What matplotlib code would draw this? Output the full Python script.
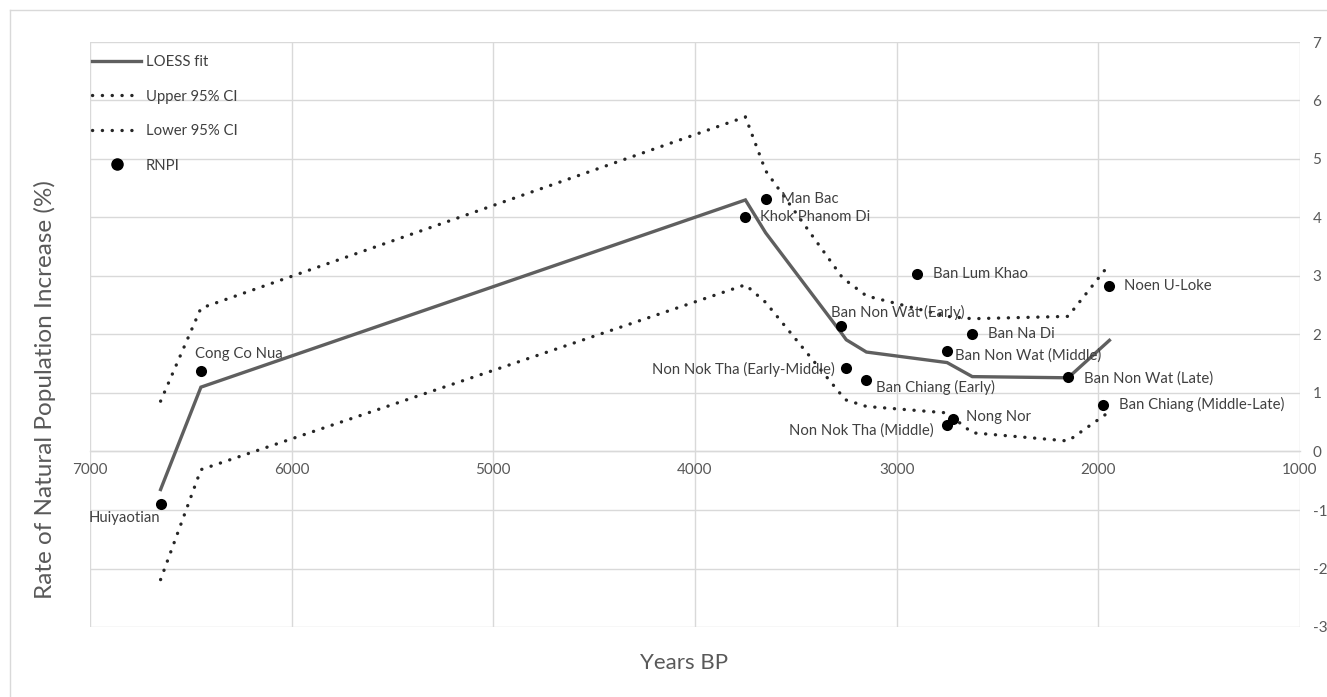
import matplotlib
matplotlib.use("Agg")
import matplotlib.pyplot as plt
from matplotlib.lines import Line2D

# ---------------- data ----------------
fit_years = [6650, 6450, 3750, 3650, 3275, 3250, 3150, 2750, 2625, 2150, 1945]
fit_loess = [-0.65, 1.10, 4.30, 3.74, 2.03, 1.91, 1.70, 1.52, 1.28, 1.26, 1.90]
fit_upper = [0.86, 2.45, 5.72, 4.80, 3.00, 2.92, 2.66, 2.31, 2.27, 2.31, 3.20]
fit_lower = [-2.19, -0.31, 2.85, 2.55, 0.97, 0.88, 0.77, 0.66, 0.32, 0.18, 0.68]

site_names = ["Huiyaotian", "Cong Co Nua", "Khok Phanom Di", "Man Bac",
              "Ban Non Wat (Early)", "Non Nok Tha (Early-Middle)", "Ban Chiang (Early)",
              "Ban Lum Khao", "Ban Non Wat (Middle)", "Non Nok Tha (Middle)", "Nong Nor",
              "Ban Na Di", "Ban Non Wat (Late)", "Ban Chiang (Middle-Late)", "Noen U-Loke"]
site_years = [6650, 6450, 3750, 3650, 3275, 3250, 3150, 2900, 2750, 2750, 2720,
              2625, 2150, 1975, 1945]
site_rnpi = [-0.89, 1.38, 4.00, 4.32, 2.15, 1.43, 1.23, 3.04, 1.71, 0.46, 0.56,
             2.00, 1.27, 0.80, 2.83]

x_ticks = [7000, 6000, 5000, 4000, 3000, 2000, 1000]
y_ticks = [-3, -2, -1, 0, 1, 2, 3, 4, 5, 6, 7]

# label placement (pixel offsets, alignment) -- styling only
label_style = {
    "Huiyaotian": (0, -14, "right"),
    "Cong Co Nua": (-6, 17, "left"),
    "Khok Phanom Di": (15, 0, "left"),
    "Man Bac": (15, 0, "left"),
    "Ban Non Wat (Early)": (-10, 13, "left"),
    "Non Nok Tha (Early-Middle)": (-11, -2, "right"),
    "Ban Chiang (Early)": (10, -8, "left"),
    "Ban Lum Khao": (16, 0, "left"),
    "Ban Non Wat (Middle)": (8, -4, "left"),
    "Non Nok Tha (Middle)": (-13, -6, "right"),
    "Nong Nor": (13, 2, "left"),
    "Ban Na Di": (16, 0, "left"),
    "Ban Non Wat (Late)": (16, -1, "left"),
    "Ban Chiang (Middle-Late)": (16, 0, "left"),
    "Noen U-Loke": (15, 0, "left"),
}

# ---------------- figure ----------------
plt.rcParams["font.family"] = ["Lato", "DejaVu Sans"]
plt.rcParams["axes.unicode_minus"] = False
W, H = 1327, 697
fig = plt.figure(figsize=(W / 100, H / 100), dpi=100)
fig.patch.set_facecolor("white")

L, R, T, B = 90, 1300, 42, 627
ax = fig.add_axes([L / W, 1 - B / H, (R - L) / W, (B - T) / H])

grid_c = "#d9d9d9"
text_c = "#595959"
lab_c = "#404040"

ax.set_xlim(7000, 1000)
ax.set_ylim(-3, 7)
ax.set_xticks(x_ticks)
ax.set_yticks(y_ticks)
ax.grid(True, color=grid_c, linewidth=1.0, zorder=0)
ax.set_axisbelow(True)
for s in ["top", "left", "right"]:
    ax.spines[s].set_visible(False)
ax.spines["bottom"].set_position(("data", 0))
ax.spines["bottom"].set_color(grid_c)
ax.spines["bottom"].set_linewidth(1.0)
ax.yaxis.tick_right()
ax.tick_params(axis="both", length=0, labelcolor=text_c, labelsize=11)
ax.tick_params(axis="y", pad=9)
ax.tick_params(axis="x", pad=8)

dot_style = dict(color="#262626", linewidth=2.4, linestyle=(0, (0.05, 2.9)),
                 dash_capstyle="round", solid_capstyle="round")

ax.plot(fit_years, fit_loess, color="#5f5f5f", linewidth=2.4, zorder=3,
        solid_joinstyle="miter")
ax.plot(fit_years, fit_upper, zorder=3, **dot_style)
ax.plot(fit_years, fit_lower, zorder=3, **dot_style)
ax.scatter(site_years, site_rnpi, s=64, color="black", zorder=4, linewidths=0)

for name, xv, yv in zip(site_names, site_years, site_rnpi):
    dx, dy, ha = label_style[name]
    ax.annotate(name, (xv, yv), xytext=(dx, dy), textcoords="offset pixels",
                ha=ha, va="center", fontsize=10.7, color=lab_c, zorder=5)

handles = [
    Line2D([], [], color="#5f5f5f", linewidth=2.4),
    Line2D([], [], **dot_style),
    Line2D([], [], **dot_style),
    Line2D([], [], marker="o", color="black", linestyle="none", markersize=8),
]
leg = fig.legend(handles, ["LOESS fit", "Upper 95% CI", "Lower 95% CI", "RNPI"],
                 loc="upper left", bbox_to_anchor=(92 / W, 1 - 55 / H),
                 frameon=False, fontsize=10.7, labelcolor=lab_c,
                 handlelength=3.3, handletextpad=0.3, labelspacing=1.38,
                 borderpad=0, borderaxespad=0)

fig.text(45 / W, 1 - 390 / H, "Rate of Natural Population Increase (%)",
         rotation=90, ha="center", va="center", fontsize=17.5, color=text_c)
fig.text(684 / W, 1 - 663 / H, "Years BP", ha="center", va="center",
         fontsize=16, color=text_c)

# chart-area border (left and top edges visible)
fig.add_artist(Line2D([10 / W, 10 / W], [0, 1 - 10 / H], transform=fig.transFigure,
                      color=grid_c, linewidth=1.0))
fig.add_artist(Line2D([10 / W, 1], [1 - 10 / H, 1 - 10 / H], transform=fig.transFigure,
                      color=grid_c, linewidth=1.0))

fig.savefig("out.png", dpi=100, facecolor="white")
